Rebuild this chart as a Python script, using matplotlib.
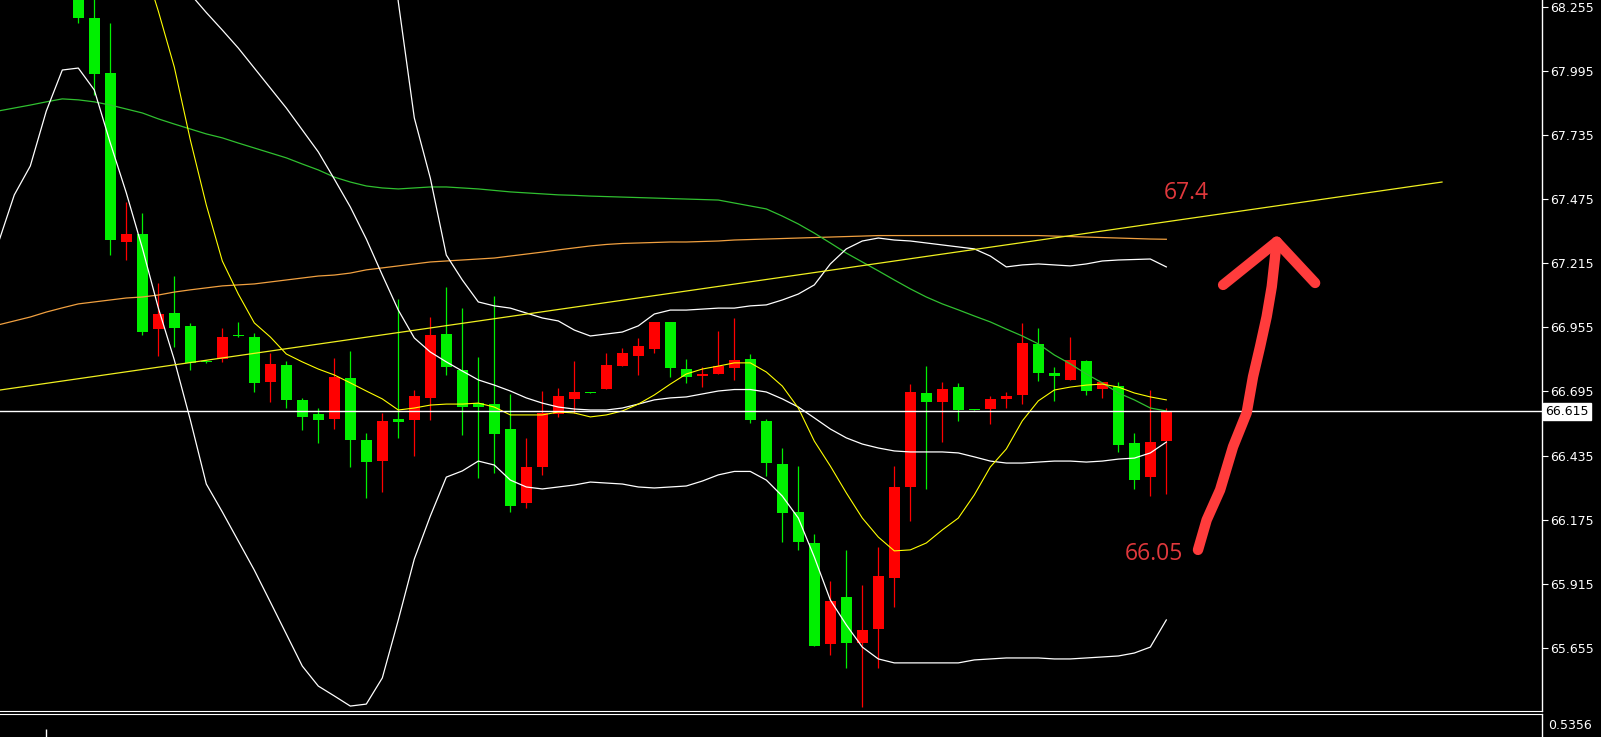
"""Candlestick chart with Bollinger bands, moving averages and a hand-drawn target arrow"""
import numpy as np
import matplotlib
matplotlib.use('Agg')
import matplotlib.pyplot as plt
import matplotlib.transforms as mtransforms

# Candles (index 0 .. 68), green = close below open, red = close above open
OPEN = [68.36, 68.208, 67.985, 67.302, 67.332, 66.947, 67.012, 66.960, 66.818, 66.825,
        66.924, 66.917, 66.735, 66.802, 66.661, 66.604, 66.583, 66.751, 66.498, 66.413,
        66.583, 66.579, 66.670, 66.928, 66.782, 66.647, 66.644, 66.543, 66.242, 66.388,
        66.603, 66.664, 66.692, 66.705, 66.799, 66.840, 66.867, 66.978, 66.786, 66.759,
        66.766, 66.791, 66.826, 66.575, 66.401, 66.205, 66.079, 65.670, 65.861, 65.677,
        65.731, 65.938, 66.309, 66.687, 66.653, 66.713, 66.623, 66.625, 66.664, 66.681,
        66.887, 66.768, 66.741, 66.818, 66.704, 66.719, 66.485, 66.350, 66.494]
HIGH = [68.45, 68.32, 68.190, 67.464, 67.417, 67.136, 67.163, 66.971, 66.822, 66.953,
        66.978, 66.931, 66.850, 66.820, 66.668, 66.627, 66.829, 66.859, 66.525, 66.609,
        67.070, 66.701, 66.998, 67.120, 67.035, 66.836, 67.082, 66.685, 66.505, 66.698,
        66.710, 66.817, 66.692, 66.852, 66.870, 66.910, 66.978, 66.978, 66.826, 66.796,
        66.940, 66.992, 66.846, 66.585, 66.465, 66.393, 66.116, 65.928, 66.053, 65.910,
        66.064, 66.393, 66.725, 66.798, 66.735, 66.730, 66.623, 66.678, 66.694, 66.971,
        66.951, 66.793, 66.917, 66.822, 66.735, 66.735, 66.528, 66.701, 66.627]
LOW = [68.187, 67.897, 67.248, 67.228, 66.924, 66.839, 66.876, 66.782, 66.812, 66.815,
       66.915, 66.693, 66.652, 66.627, 66.539, 66.486, 66.543, 66.390, 66.262, 66.289,
       66.505, 66.435, 66.579, 66.762, 66.519, 66.343, 66.366, 66.206, 66.223, 66.357,
       66.593, 66.607, 66.690, 66.705, 66.799, 66.762, 66.850, 66.755, 66.728, 66.715,
       66.766, 66.742, 66.568, 66.353, 66.086, 66.053, 65.663, 65.627, 65.573, 65.417,
       65.573, 65.823, 66.171, 66.299, 66.491, 66.574, 66.621, 66.564, 66.629, 66.644,
       66.739, 66.658, 66.741, 66.681, 66.670, 66.451, 66.298, 66.273, 66.279]
CLOSE = [68.21, 67.981, 67.309, 67.332, 66.937, 67.009, 66.951, 66.812, 66.815, 66.917,
         66.921, 66.731, 66.806, 66.661, 66.593, 66.580, 66.755, 66.498, 66.410, 66.575,
         66.571, 66.677, 66.924, 66.795, 66.633, 66.633, 66.523, 66.232, 66.390, 66.606,
         66.678, 66.692, 66.690, 66.802, 66.852, 66.879, 66.978, 66.791, 66.755, 66.765,
         66.799, 66.822, 66.579, 66.404, 66.201, 66.083, 65.663, 65.846, 65.674, 65.728,
         65.947, 66.306, 66.692, 66.653, 66.704, 66.621, 66.621, 66.665, 66.677, 66.893,
         66.771, 66.759, 66.822, 66.698, 66.732, 66.478, 66.336, 66.490, 66.613]

# Indicator lines, one value per bar from index -5 to 68
LINE_START = -5
BB_UPPER = [70.0, 70.0, 70.0, 70.0, 70.0, 70.1, 70.1, 70.1, 70.1, 70.1,
            70.1, 70.1, 70.1, 70.1, 70.113, 70.085, 70.041, 70.008, 69.976, 69.928,
            69.831, 69.651, 69.466, 69.198, 68.800, 68.274, 67.804, 67.560, 67.248, 67.147,
            67.058, 67.042, 67.033, 67.013, 66.993, 66.981, 66.944, 66.920, 66.928, 66.936,
            66.961, 67.009, 67.025, 67.025, 67.029, 67.033, 67.033, 67.042, 67.046, 67.066,
            67.090, 67.127, 67.212, 67.273, 67.305, 67.317, 67.309, 67.305, 67.297, 67.289,
            67.281, 67.273, 67.244, 67.200, 67.208, 67.212, 67.208, 67.204, 67.212, 67.224,
            67.228, 67.230, 67.232, 67.200]
BB_MID = [68.789, 68.789, 68.785, 68.777, 68.760, 68.736, 68.704, 68.655, 68.598, 68.533,
          68.464, 68.383, 68.306, 68.231, 68.160, 68.087, 68.006, 67.925, 67.844, 67.755,
          67.666, 67.556, 67.443, 67.313, 67.167, 67.025, 66.912, 66.855, 66.815, 66.778,
          66.742, 66.721, 66.697, 66.669, 66.648, 66.632, 66.624, 66.620, 66.620, 66.628,
          66.644, 66.661, 66.669, 66.673, 66.685, 66.697, 66.703, 66.703, 66.693, 66.665,
          66.632, 66.588, 66.543, 66.507, 66.482, 66.466, 66.454, 66.450, 66.450, 66.450,
          66.446, 66.430, 66.413, 66.405, 66.405, 66.409, 66.413, 66.413, 66.409, 66.413,
          66.421, 66.425, 66.446, 66.490]
BB_LOWER = [67.297, 67.492, 67.609, 67.832, 67.998, 68.006, 67.917, 67.702, 67.500, 67.277,
            67.034, 66.823, 66.580, 66.320, 66.207, 66.089, 65.971, 65.842, 65.712, 65.582,
            65.501, 65.461, 65.420, 65.428, 65.534, 65.769, 66.016, 66.190, 66.348, 66.373,
            66.413, 66.397, 66.336, 66.308, 66.300, 66.308, 66.316, 66.328, 66.324, 66.320,
            66.308, 66.304, 66.308, 66.312, 66.332, 66.357, 66.371, 66.371, 66.336, 66.271,
            66.182, 66.024, 65.850, 65.749, 65.659, 65.611, 65.595, 65.595, 65.595, 65.595,
            65.595, 65.607, 65.611, 65.615, 65.615, 65.615, 65.611, 65.611, 65.615, 65.619,
            65.623, 65.635, 65.659, 65.769]
MA_FAST = [69.10, 69.10, 69.10, 69.10, 69.08, 69.05, 68.98, 68.85, 68.647, 68.444,
           68.237, 68.010, 67.715, 67.451, 67.224, 67.090, 66.973, 66.916, 66.847, 66.815,
           66.786, 66.762, 66.730, 66.697, 66.665, 66.620, 66.628, 66.640, 66.644, 66.644,
           66.648, 66.632, 66.600, 66.600, 66.600, 66.612, 66.608, 66.592, 66.600, 66.616,
           66.644, 66.681, 66.725, 66.766, 66.786, 66.798, 66.811, 66.811, 66.774, 66.717,
           66.628, 66.494, 66.393, 66.284, 66.182, 66.105, 66.049, 66.053, 66.081, 66.134,
           66.182, 66.276, 66.389, 66.462, 66.576, 66.657, 66.701, 66.713, 66.721, 66.725,
           66.713, 66.689, 66.673, 66.661]
MA_SLOW = [67.832, 67.844, 67.856, 67.869, 67.881, 67.877, 67.869, 67.856, 67.840, 67.824,
           67.800, 67.779, 67.759, 67.739, 67.723, 67.702, 67.682, 67.662, 67.642, 67.617,
           67.593, 67.564, 67.544, 67.528, 67.520, 67.516, 67.520, 67.524, 67.524, 67.520,
           67.516, 67.510, 67.504, 67.500, 67.496, 67.492, 67.490, 67.487, 67.485, 67.483,
           67.481, 67.479, 67.477, 67.475, 67.473, 67.471, 67.459, 67.447, 67.435, 67.406,
           67.374, 67.337, 67.297, 67.256, 67.220, 67.184, 67.147, 67.111, 67.078, 67.050,
           67.026, 67.001, 66.977, 66.948, 66.920, 66.888, 66.843, 66.807, 66.766, 66.730,
           66.689, 66.661, 66.628, 66.616]
MA_LONG = [66.965, 66.981, 66.997, 67.017, 67.034, 67.050, 67.058, 67.066, 67.074, 67.078,
           67.086, 67.098, 67.107, 67.115, 67.123, 67.127, 67.131, 67.139, 67.147, 67.155,
           67.163, 67.167, 67.175, 67.188, 67.196, 67.204, 67.212, 67.220, 67.224, 67.228,
           67.232, 67.236, 67.244, 67.252, 67.260, 67.269, 67.277, 67.285, 67.291, 67.295,
           67.297, 67.299, 67.301, 67.301, 67.303, 67.305, 67.309, 67.311, 67.313, 67.315,
           67.317, 67.319, 67.321, 67.323, 67.325, 67.327, 67.327, 67.327, 67.327, 67.327,
           67.327, 67.327, 67.327, 67.327, 67.327, 67.327, 67.325, 67.323, 67.321, 67.319,
           67.317, 67.315, 67.313, 67.312]

# Trend line anchors (bar index, price)
TREND_X = [-4.894, 85.23]
TREND_Y = [66.701, 67.544]

CURRENT_PRICE = 66.615
Y_TICKS = [68.255, 67.995, 67.735, 67.475, 67.215, 66.955, 66.695,
           66.435, 66.175, 65.915, 65.655]
SUB_LABEL = "0.5356"

# Hand-drawn arrow (bar index, price) and its notes
ARROW_X = [69.98, 70.52, 71.36, 72.17, 73.02, 73.42, 73.86, 74.27, 74.59, 74.90]
ARROW_Y = [66.053, 66.174, 66.296, 66.471, 66.608, 66.755, 66.877, 66.998, 67.120, 67.302]
HEAD_X = [71.55, 74.90, 77.30]
HEAD_Y = [67.127, 67.302, 67.135]
NOTES = [("67.4", 69.23, 67.500), ("66.05", 67.23, 66.036)]

BULL = '#ff0000'
BEAR = '#00f000'
W, H = 1601, 737


def main():
    fig = plt.figure(figsize=(W / 100, H / 100), dpi=100, facecolor='black')
    ax = fig.add_axes([0, 26 / H, 1542 / W, 711 / H], facecolor='black')
    ax2 = fig.add_axes([0, 0, 1542 / W, 23 / H], facecolor='black')

    o = np.array(OPEN)
    hi = np.array(HIGH)
    lo = np.array(LOW)
    c = np.array(CLOSE)
    idx = np.arange(len(o))
    colors = np.where(c < o, BEAR, BULL)

    # wicks and bodies
    ax.vlines(idx, lo, hi, colors=colors, lw=0.9, zorder=2)
    body_h = np.maximum(np.abs(c - o), 0.004)
    ax.bar(idx, body_h, bottom=np.minimum(o, c), width=0.68,
           color=colors, linewidth=0, zorder=2)

    xs = np.arange(LINE_START, LINE_START + len(BB_MID))
    ax.plot(xs, MA_LONG, color='#f0a040', lw=0.9, zorder=3)
    ax.plot(xs, MA_SLOW, color='#30c030', lw=0.9, zorder=3)
    ax.plot(xs, BB_UPPER, color='white', lw=0.9, zorder=3)
    ax.plot(xs, BB_MID, color='white', lw=0.9, zorder=3)
    ax.plot(xs, BB_LOWER, color='white', lw=0.9, zorder=3)
    ax.plot(xs, MA_FAST, color='#ffff00', lw=0.8, zorder=3)
    ax.plot(TREND_X, TREND_Y, color='#f0f020', lw=0.9, zorder=3)
    ax.axhline(CURRENT_PRICE, color='white', lw=1.0, zorder=4)

    # hand-drawn arrow and notes
    ax.plot(ARROW_X, ARROW_Y, color='#ff3c3c', lw=7.5,
            solid_capstyle='round', solid_joinstyle='round', zorder=5)
    ax.plot(HEAD_X, HEAD_Y, color='#ff3c3c', lw=7.5,
            solid_capstyle='round', solid_joinstyle='round', zorder=5)
    for txt, x, y in NOTES:
        ax.text(x, y, txt, color='#e0383c', fontsize=16.5, family='Open Sans',
                ha='center', va='center', zorder=5)

    ax.set_xlim(-4.894, 91.48)
    ax.set_ylim(65.400, 68.2818)

    for a in (ax, ax2):
        for side in ('left', 'top', 'bottom'):
            a.spines[side].set_visible(False)
        a.spines['right'].set_color('white')
        a.spines['right'].set_linewidth(1.0)
        a.set_xticks([])
    ax.spines['bottom'].set_visible(True)
    ax.spines['bottom'].set_color('white')
    ax2.spines['top'].set_visible(True)
    ax2.spines['top'].set_color('white')

    ax.yaxis.tick_right()
    ax.set_yticks(Y_TICKS)
    ax.set_yticklabels(['%.3f' % v for v in Y_TICKS])
    ax.tick_params(axis='y', colors='white', direction='out', length=4,
                   width=0.8, labelsize=9, pad=2)

    trans = mtransforms.blended_transform_factory(ax.transAxes, ax.transData)
    ax.text(1.002, CURRENT_PRICE, '%.3f' % CURRENT_PRICE, transform=trans,
            color='black', fontsize=9, ha='left', va='center', zorder=6,
            bbox=dict(facecolor='white', edgecolor='white', pad=1.5),
            clip_on=False)

    # sub panel
    ax2.set_xlim(-4.894, 91.48)
    ax2.set_ylim(0, 1)
    ax2.set_yticks([])
    ax2.vlines([-2.0], 0, 0.35, colors='white', lw=1.0)
    ax2.text(1.004, 0.5, SUB_LABEL, transform=ax2.transAxes, color='white',
             fontsize=9, ha='left', va='center', clip_on=False)

    fig.savefig('out.png', dpi=100, facecolor='black')


if __name__ == "__main__":
    main()
